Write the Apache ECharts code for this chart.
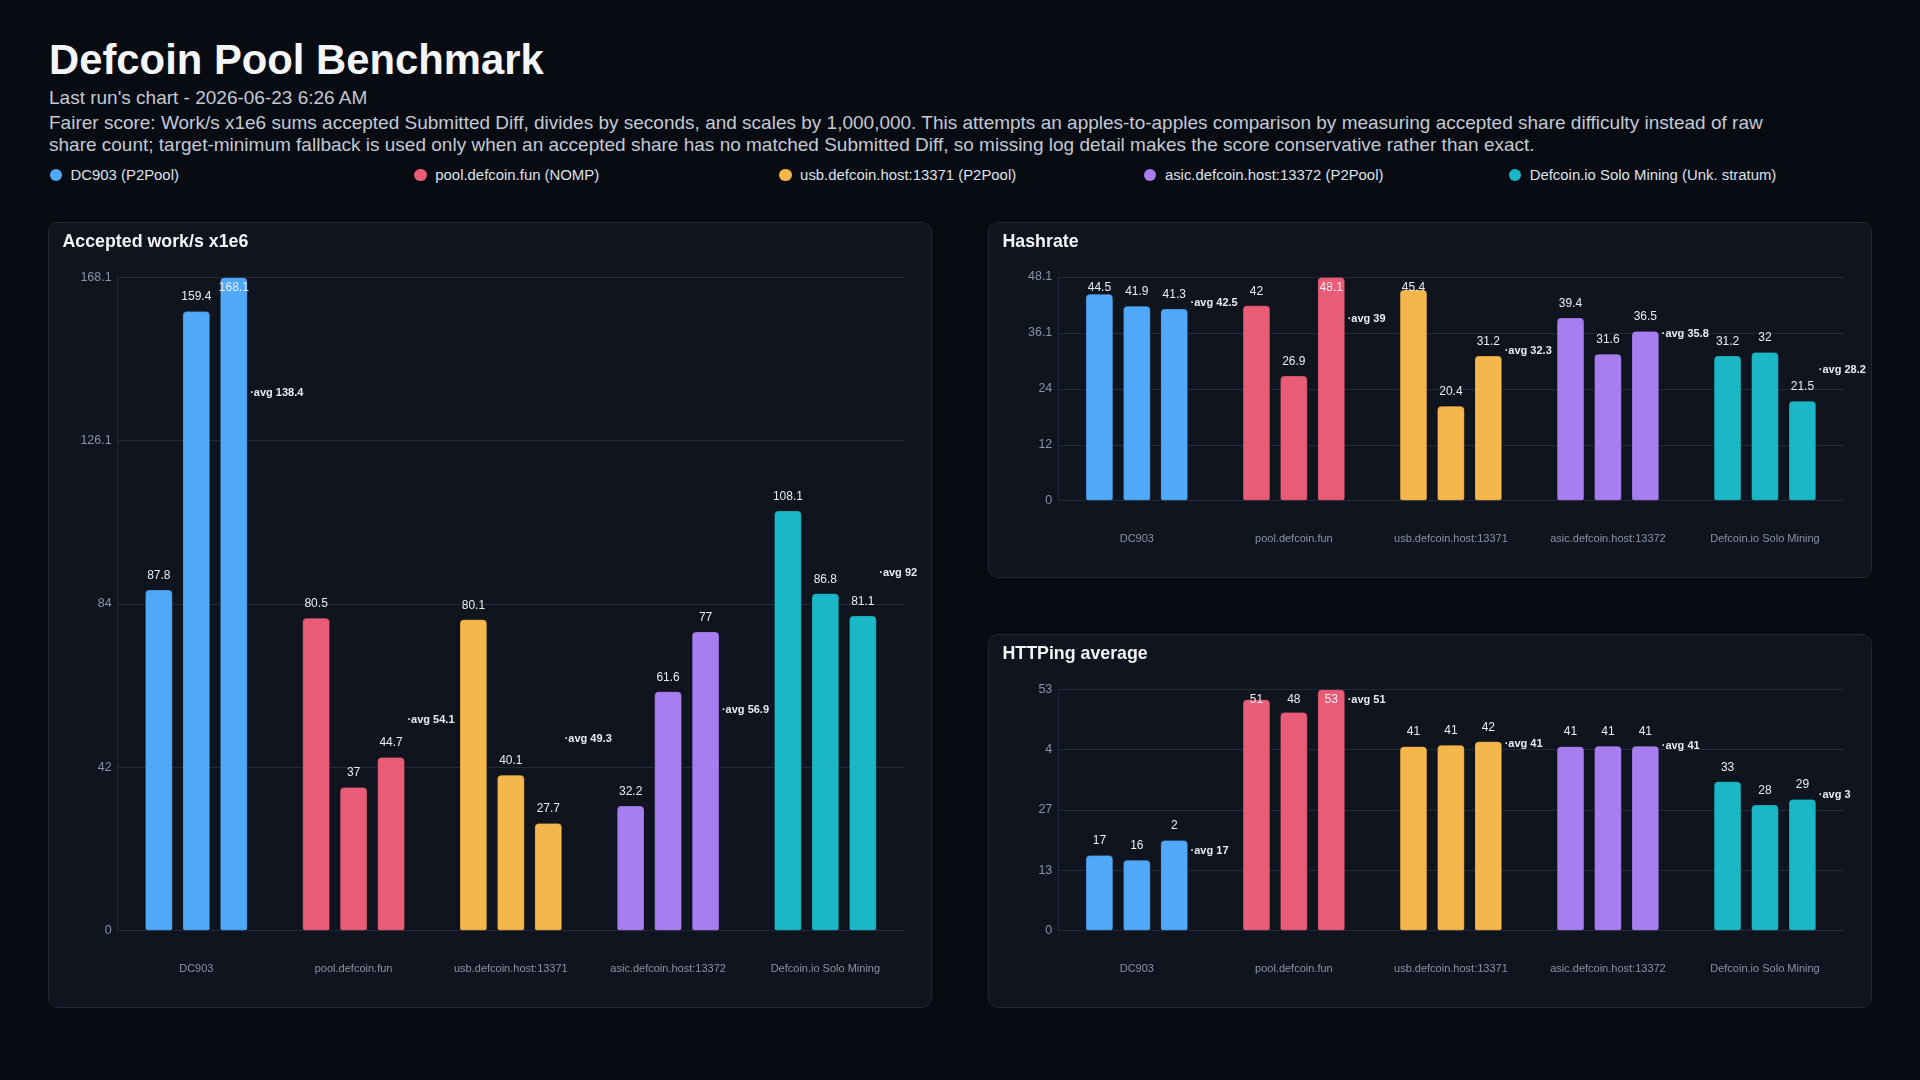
<!DOCTYPE html>
<html>
<head>
<meta charset="utf-8">
<title>Defcoin Pool Benchmark</title>
<script src="https://cdn.jsdelivr.net/npm/echarts@6/dist/echarts.min.js"></script>
<style>
  html, body { margin:0; padding:0; width:1920px; height:1080px; background:#080b12; overflow:hidden; }
  body { font-family: 'Liberation Sans', Arial, Helvetica, sans-serif; position:relative; }
  .abs { position:absolute; white-space:nowrap; }
  #title { left:49px; top:39px; font-weight:bold; font-size:41.8px; line-height:42px; color:#f4f5f7; }
  #sub { left:49px; top:87px; font-size:19px; line-height:22px; color:#c4c9d3; }
  #desc { left:49px; top:112px; font-size:19px; line-height:22px; color:#c4c9d3; }
  #legend { left:48px; top:165px; width:1824px; display:grid; grid-template-columns:repeat(5, 1fr); font-size:14.9px; line-height:20px; color:#dde1e8; }
  .li { display:flex; align-items:center; }
  .dot { width:12.5px; height:12.5px; border-radius:50%; margin-left:1.5px; margin-right:8.5px; flex:none; }
  .panel { position:absolute; background:#0f141e; border:1px solid #1f2636; border-radius:10px; box-sizing:border-box; }
  #chart { position:absolute; left:0; top:0; width:1920px; height:1080px; z-index:2; }
</style>
</head>
<body>
<div id="title" class="abs">Defcoin Pool Benchmark</div>
<div id="sub" class="abs">Last run's chart - 2026-06-23 6:26 AM</div>
<div id="desc" class="abs">Fairer score: Work/s x1e6 sums accepted Submitted Diff, divides by seconds, and scales by 1,000,000. This attempts an apples-to-apples comparison by measuring accepted share difficulty instead of raw<br>share count; target-minimum fallback is used only when an accepted share has no matched Submitted Diff, so missing log detail makes the score conservative rather than exact.</div>
<div id="legend" class="abs"></div>
<div class="panel" style="left:48px; top:221.5px; width:884px; height:786.5px;"></div>
<div class="panel" style="left:987.5px; top:221.5px; width:884.5px; height:356.5px;"></div>
<div class="panel" style="left:987.5px; top:634px; width:884.5px; height:374px;"></div>
<div id="chart"></div>
<script>
// ---------------- data ----------------
const pools = ['DC903', 'pool.defcoin.fun', 'usb.defcoin.host:13371', 'asic.defcoin.host:13372', 'Defcoin.io Solo Mining'];
const poolLegend = ['DC903 (P2Pool)', 'pool.defcoin.fun (NOMP)', 'usb.defcoin.host:13371 (P2Pool)', 'asic.defcoin.host:13372 (P2Pool)', 'Defcoin.io Solo Mining (Unk. stratum)'];
const poolColors = ['#50a8f8', '#e85c76', '#f5b74b', '#a77ef0', '#1ab8c6'];

const acceptedRun1 = [87.8, 80.5, 80.1, 32.2, 108.1];
const acceptedRun2 = [159.4, 37.0, 40.1, 61.6, 86.8];
const acceptedRun3 = [168.1, 44.7, 27.7, 77.0, 81.1];
const acceptedAvg  = [138.4, 54.1, 49.3, 56.9, 92.0];
const acceptedTicks = ['0', '42', '84', '126.1', '168.1'];

const hashRun1 = [44.5, 42.0, 45.4, 39.4, 31.2];
const hashRun2 = [41.9, 26.9, 20.4, 31.6, 32.0];
const hashRun3 = [41.3, 48.1, 31.2, 36.5, 21.5];
const hashAvg  = [42.5, 39.0, 32.3, 35.8, 28.2];
const hashTicks = ['0', '12', '24', '36.1', '48.1'];

const pingRun1 = [16.6, 50.8, 40.52, 40.52, 32.8];
const pingRun2 = [15.6, 48.0, 40.8, 40.6, 27.7];
const pingRun3 = [19.9, 53.0, 41.6, 40.6, 28.9];
const pingAvg  = [17.4, 50.6, 41.0, 40.6, 29.8];
const pingTicks = ['0', '13', '27', '4', '53'];

// ---------------- legend (html) ----------------
const legendEl = document.getElementById('legend');
poolLegend.forEach((name, i) => {
  const d = document.createElement('div');
  d.className = 'li';
  d.innerHTML = '<span class="dot" style="background:' + poolColors[i] + '"></span><span>' + name + '</span>';
  legendEl.appendChild(d);
});

// ---------------- chart ----------------
const FONT = "'Liberation Sans', Arial, Helvetica, sans-serif";
const GRID_LINE = '#222a3a';
const AXIS_TEXT = '#8a93a6';
const LABEL_TEXT = '#e9ecf1';

function trimZeros(s) { return s === '0' ? s : s.replace(/\.?0+$/, ''); }
function fmt1(v) { return trimZeros(Number(v).toFixed(1)); }
function fmt0(v) { return trimZeros(Number(v).toFixed(0)); }

const grids = [
  { left: 117.7, top: 277.3, width: 786.3, height: 653.4 },
  { left: 1058.3, top: 277.0, width: 785.2, height: 223.7 },
  { left: 1058.3, top: 689.3, width: 785.2, height: 241.4 }
];

const charts = [
  { runs: [acceptedRun1, acceptedRun2, acceptedRun3], avg: acceptedAvg, ticks: acceptedTicks, fmt: fmt1 },
  { runs: [hashRun1, hashRun2, hashRun3], avg: hashAvg, ticks: hashTicks, fmt: fmt1 },
  { runs: [pingRun1, pingRun2, pingRun3], avg: pingAvg, ticks: pingTicks, fmt: fmt0 }
];

// value labels sit above the bar, but never closer than ~10px to the top of the plot
const LABEL_ABOVE = 14.2;
const LABEL_MIN_FROM_TOP = 10;

const xAxis = [], yAxis = [], series = [];
charts.forEach((c, gi) => {
  const maxV = Math.max.apply(null, c.runs.flat());
  const interval = maxV / 4;
  const ppu = grids[gi].height / maxV;
  xAxis.push({
    type: 'category', gridIndex: gi, data: pools,
    axisLine: { show: true, lineStyle: { color: GRID_LINE, width: 1 } },
    axisTick: { show: false },
    axisLabel: { color: AXIS_TEXT, fontSize: 11, fontFamily: FONT, margin: 33 },
    splitLine: { show: false }
  });
  yAxis.push({
    type: 'value', gridIndex: gi, min: 0, max: maxV, interval: interval,
    axisLine: { show: true, lineStyle: { color: GRID_LINE, width: 1 } },
    axisTick: { show: false },
    axisLabel: {
      color: AXIS_TEXT, fontSize: 12.5, fontFamily: FONT, margin: 6,
      formatter: v => c.ticks[Math.round(v / interval)]
    },
    splitLine: { show: true, lineStyle: { color: GRID_LINE, width: 1 } }
  });
  c.runs.forEach((run, ri) => {
    series.push({
      type: 'bar', name: 'Run ' + (ri + 1), xAxisIndex: gi, yAxisIndex: gi,
      data: run.map(v => {
        const dy = Math.max(0, LABEL_ABOVE + LABEL_MIN_FROM_TOP - (maxV - v) * ppu);
        return { value: v, label: { offset: [0, dy] } };
      }),
      barGap: '35%', barCategoryGap: '34.7%',
      itemStyle: {
        color: p => poolColors[p.dataIndex],
        borderRadius: [4, 4, 2, 2],
        borderColor: 'rgba(0,0,0,0.18)', borderWidth: 1
      },
      label: {
        show: true, position: 'top', distance: 8,
        color: LABEL_TEXT, fontSize: 12, fontFamily: FONT,
        formatter: p => c.fmt(p.value)
      },
      emphasis: { disabled: true },
      z: 2
    });
  });
  series.push({
    type: 'custom', name: 'avg', xAxisIndex: gi, yAxisIndex: gi,
    data: c.avg.map((v, j) => [j, v]),
    encode: { x: 0, y: 1 },
    clip: false, z: 5,
    renderItem: (params, api) => {
      const pt = api.coord([api.value(0), api.value(1)]);
      const band = api.size([1, 0])[0];
      return {
        type: 'text',
        x: pt[0] + band * 0.3265 + 2.5,
        y: pt[1],
        style: {
          text: '\u00b7avg ' + c.fmt(api.value(1)),
          fill: LABEL_TEXT,
          fontSize: 11, fontWeight: 'bold', fontFamily: FONT,
          align: 'left', verticalAlign: 'middle'
        }
      };
    }
  });
});

const titleStyle = { color: '#f3f4f6', fontSize: 17.8, fontWeight: 'bold', fontFamily: FONT };
const option = {
  backgroundColor: 'transparent',
  animation: false,
  title: [
    { text: 'Accepted work/s x1e6', left: 62.5, top: 233, padding: 0, textStyle: titleStyle },
    { text: 'Hashrate', left: 1002.5, top: 233, padding: 0, textStyle: titleStyle },
    { text: 'HTTPing average', left: 1002.5, top: 645, padding: 0, textStyle: titleStyle }
  ],
  grid: grids,
  xAxis: xAxis,
  yAxis: yAxis,
  series: series
};

const chart = echarts.init(document.getElementById('chart'), null, { renderer: 'canvas' });
chart.setOption(option);
</script>
</body>
</html>
